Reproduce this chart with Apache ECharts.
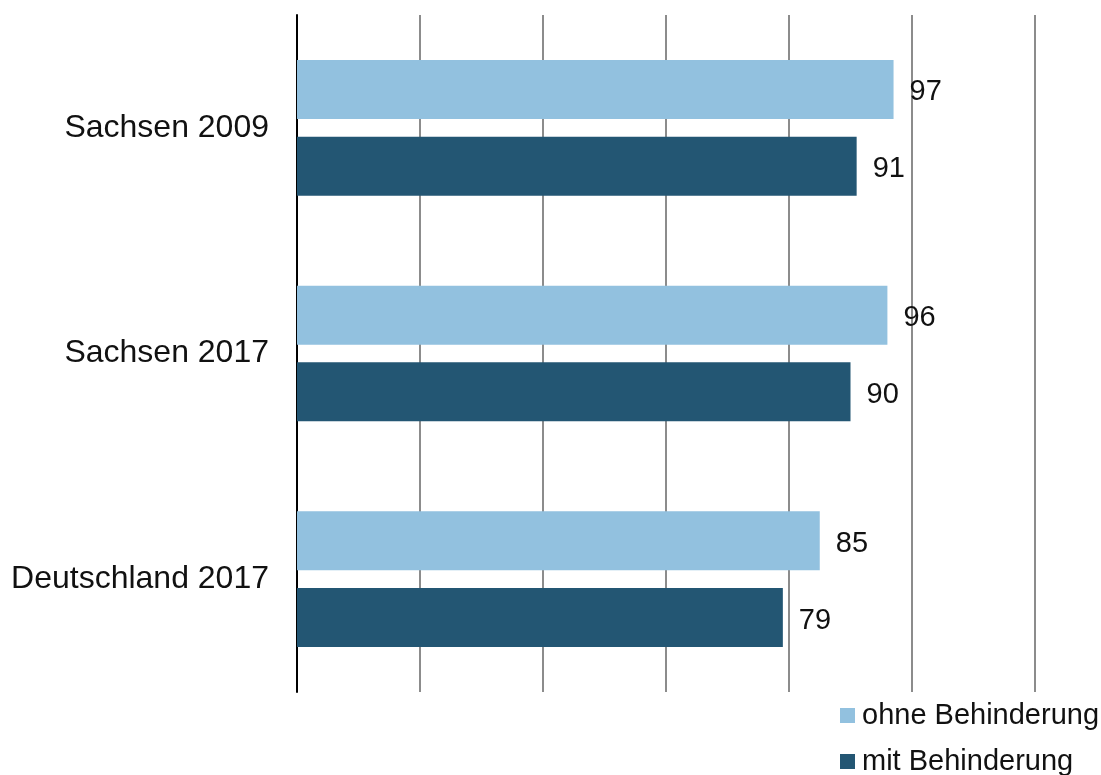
<!DOCTYPE html>
<html>
<head>
<meta charset="utf-8">
<script src="https://cdn.jsdelivr.net/npm/echarts@6/dist/echarts.min.js"></script>
<style>
  html, body { margin: 0; padding: 0; background: #fff; }
  #chart { width: 1101px; height: 775px; }
</style>
</head>
<body>
<div id="chart"></div>
<script>
// Categories (top to bottom) and the two series
const categories = ['Sachsen 2009', 'Sachsen 2017', 'Deutschland 2017'];
const ohneBehinderung = [97, 96, 85];
const mitBehinderung = [91, 90, 79];
const seriesNames = ['ohne Behinderung', 'mit Behinderung'];

const FONT = 'Liberation Sans, Arial, sans-serif';
const TEXT = '#111111';

const chart = echarts.init(document.getElementById('chart'), null, { renderer: 'canvas' });

const labelStyle = {
  show: true,
  position: 'right',
  distance: 16,
  offset: [0, 3],
  color: TEXT,
  fontFamily: FONT,
  fontSize: 29
};

// One legend block per entry so both rows stay at the bottom-right corner
function legendRow(name, top) {
  return {
    orient: 'vertical',
    left: 840,
    top: top,
    padding: 0,
    itemWidth: 15,
    itemHeight: 15,
    icon: 'rect',
    textStyle: { color: TEXT, fontFamily: FONT, fontSize: 29, padding: [0, 0, 0, 2] },
    data: [name]
  };
}

chart.setOption({
  animation: false,
  backgroundColor: '#ffffff',
  grid: { left: 297, right: 66, top: 15, bottom: 83, containLabel: false },
  legend: [legendRow(seriesNames[0], 701), legendRow(seriesNames[1], 747)],
  xAxis: {
    type: 'value',
    min: 0,
    max: 120,
    interval: 20,
    axisLine: { show: false },
    axisTick: { show: false },
    axisLabel: { show: false },
    splitLine: { show: true, lineStyle: { color: '#8c8c8c', width: 2 } }
  },
  yAxis: {
    type: 'category',
    data: categories,
    inverse: true,
    axisLine: { show: true, lineStyle: { color: '#000000', width: 2 } },
    axisTick: { show: false },
    axisLabel: { color: TEXT, fontFamily: FONT, fontSize: 32, margin: 28, padding: [2, 0, 0, 0] }
  },
  series: [
    {
      name: seriesNames[0],
      type: 'bar',
      data: ohneBehinderung,
      barWidth: 59,
      barGap: '30%',
      itemStyle: { color: '#92c1df' },
      label: labelStyle
    },
    {
      name: seriesNames[1],
      type: 'bar',
      data: mitBehinderung,
      barWidth: 59,
      barGap: '30%',
      itemStyle: { color: '#235673' },
      label: labelStyle
    }
  ]
});
</script>
</body>
</html>
